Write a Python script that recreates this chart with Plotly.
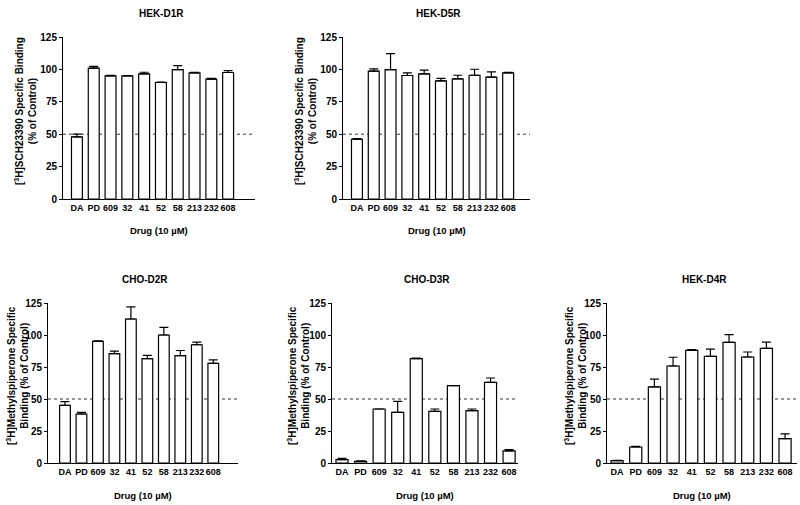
import plotly.graph_objects as go

drugs = ["DA", "PD", "609", "32", "41", "52", "58", "213", "232", "608"]

d1r_vals = [48, 101, 95, 95, 96.6, 89.9, 99.9, 97.3, 92.5, 97.6]
d1r_err = [2, 1.3, 0.5, 0.3, 1.2, 0.3, 3, 0.5, 0.5, 1.5]

d5r_vals = [46.1, 98.6, 99.9, 95.3, 96.6, 91.2, 92.7, 95.5, 94, 97.3]
d5r_err = [0.5, 1.8, 12.3, 2, 2.8, 1.8, 2.8, 4.6, 4.1, 0.5]

d2r_vals = [45, 38.3, 95, 85.4, 112.5, 81.5, 100, 83.9, 92.4, 77.9]
d2r_err = [3, 1.3, 0.5, 2, 9.4, 2.6, 6, 4, 2, 2.6]

d3r_vals = [2.6, 1.3, 42.2, 39.6, 81.5, 40.4, 60.4, 40.9, 63, 9.4]
d3r_err = [1, 0.3, 0, 8.6, 0.5, 1.8, 0, 1.3, 3.4, 1]

d4r_vals = [1.8, 12.5, 59.4, 75.8, 88, 83.3, 94.3, 82.8, 89.6, 19]
d4r_err = [0.3, 0.5, 6.2, 6.8, 0.5, 5.7, 6, 3.9, 4.9, 3.7]

titles = ["HEK-D1R", "HEK-D5R", "CHO-D2R", "CHO-D3R", "HEK-D4R"]
ytitle_top = "[<sup>3</sup>H]SCH23390 Specific Binding<br>(% of Control)"
ytitle_bot = "[<sup>3</sup>H]Methylspiperone Specific<br>Binding (% of Control)"
xtitle = "Drug (10 µM)"
yticks = [0, 25, 50, 75, 100, 125]
ref_level = 50

W, H = 800, 505
FONT = "Liberation Sans Narrow, Liberation Sans, Arial, sans-serif"

# panel geometry in pixels
panels = [
    dict(vals=d1r_vals, err=d1r_err, x0=63, x1=255, yt=37, yb=199, r=(-0.83, 10.6), yt_title=ytitle_top, ytx=26),
    dict(vals=d5r_vals, err=d5r_err, x0=343, x1=530, yt=37, yb=199, r=(-0.83, 10.3), yt_title=ytitle_top, ytx=306),
    dict(vals=d2r_vals, err=d2r_err, x0=48, x1=238, yt=303, yb=463, r=(-1.03, 10.5), yt_title=ytitle_bot, ytx=17),
    dict(vals=d3r_vals, err=d3r_err, x0=332, x1=518, yt=303, yb=463, r=(-0.54, 9.48), yt_title=ytitle_bot, ytx=298),
    dict(vals=d4r_vals, err=d4r_err, x0=607, x1=797, yt=303, yb=463, r=(-0.54, 9.64), yt_title=ytitle_bot, ytx=575),
]

fig = go.Figure()
layout = dict(
    template="none",
    width=W, height=H,
    margin=dict(l=0, r=0, t=0, b=0, pad=0),
    paper_bgcolor="white", plot_bgcolor="white",
    showlegend=False,
    font=dict(family=FONT, color="black", size=9),
    annotations=[], shapes=[],
)

for i, p in enumerate(panels):
    n = "" if i == 0 else str(i + 1)
    xa, ya = "x" + n, "y" + n
    fig.add_trace(go.Bar(
        x=list(range(len(drugs))), y=p["vals"],
        xaxis=xa, yaxis=ya, width=0.65,
        marker=dict(color="white", line=dict(color="black", width=1.2)),
        error_y=dict(type="data", array=p["err"], arrayminus=[0] * len(drugs),
                     symmetric=False, color="black", thickness=1.2, width=4.5),
    ))
    layout["xaxis" + n] = dict(
        domain=[p["x0"] / W, p["x1"] / W], anchor=ya, automargin=False,
        range=list(p["r"]), tickmode="array",
        tickvals=list(range(len(drugs))), ticktext=drugs,
        tickangle=0,
        showline=True, linecolor="black", linewidth=1,
        ticks="", showgrid=False, zeroline=False,
        tickfont=dict(size=9, weight="bold", family=FONT),
    )
    layout["yaxis" + n] = dict(
        domain=[1 - p["yb"] / H, 1 - p["yt"] / H], anchor=xa, automargin=False,
        range=[0, 125], tickmode="array", tickvals=yticks,
        showline=True, linecolor="black", linewidth=1,
        ticks="outside", ticklen=3, tickcolor="black",
        showgrid=False, zeroline=False,
        tickfont=dict(size=10, weight="bold", family=FONT),
    )
    # reference line at 50
    layout["shapes"].append(dict(
        type="line", xref=xa + " domain", yref=ya,
        x0=0, x1=1, y0=ref_level, y1=ref_level,
        line=dict(color="#333333", width=1, dash="dot"), layer="below",
    ))
    cx = (p["x0"] + p["x1"]) / 2
    # panel title
    layout["annotations"].append(dict(
        text="<b>" + titles[i] + "</b>", x=(cx + 2) / W, y=1 - (p["yt"] - 24) / H,
        xref="paper", yref="paper", showarrow=False,
        font=dict(size=10, family=FONT), xanchor="center", yanchor="middle",
    ))
    # x title
    layout["annotations"].append(dict(
        text="<b>" + xtitle + "</b>", x=cx / W, y=1 - (p["yb"] + 32) / H,
        xref="paper", yref="paper", showarrow=False,
        font=dict(size=9.5, family=FONT), xanchor="center", yanchor="middle",
    ))
    # y title
    layout["annotations"].append(dict(
        text="<b>" + p["yt_title"] + "</b>", x=p["ytx"] / W,
        y=1 - ((p["yt"] + p["yb"]) / 2 - 7) / H,
        xref="paper", yref="paper", showarrow=False, textangle=-90,
        font=dict(size=10, family=FONT), xanchor="center", yanchor="middle",
    ))

fig.update_layout(**layout)
fig.write_html("out.html", config={"displayModeBar": False},
               post_script="document.body.style.margin='0';")
